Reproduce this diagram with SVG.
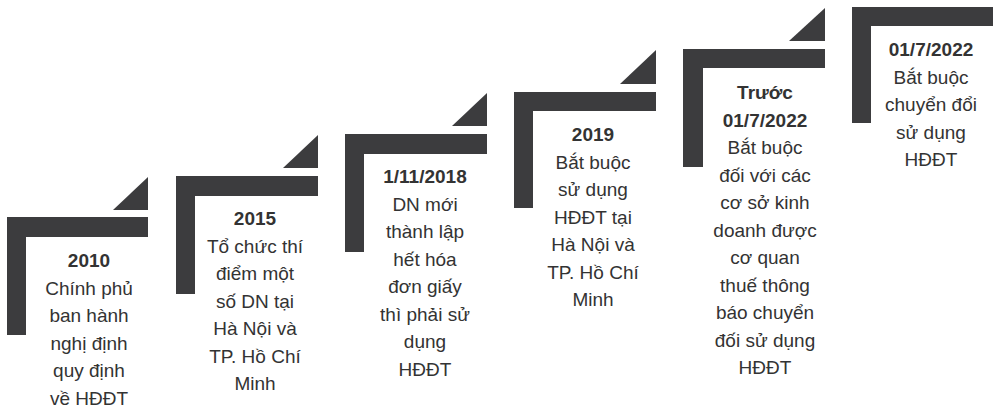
<svg xmlns="http://www.w3.org/2000/svg" width="1000" height="419" viewBox="0 0 1000 419">
<style>
.b{fill:#3c3c3e}
.t{font-family:"Liberation Sans",Arial,sans-serif;font-size:19px;fill:#333;text-anchor:middle}
.h{font-weight:bold}
</style>
<rect width="1000" height="419" fill="#fff"/>
<g id="step1">
<path class="b" d="M7,217H148V237H26V335H7Z"/>
<path class="b" d="M113,210H148V177Z"/>
<text class="t" x="89"><tspan class="h" y="267">2010</tspan><tspan x="89" y="294.5">Chính phủ</tspan><tspan x="89" y="322">ban hành</tspan><tspan x="89" y="349.5">nghị định</tspan><tspan x="89" y="377">quy định</tspan><tspan x="89" y="404.5">về HĐĐT</tspan></text>
</g>
<g id="step2">
<path class="b" d="M176,176H318V196H195V294H176Z"/>
<path class="b" d="M283,168H318V135Z"/>
<text class="t" x="255"><tspan class="h" y="225">2015</tspan><tspan x="255" y="252.5">Tổ chức thí</tspan><tspan x="255" y="280">điểm một</tspan><tspan x="255" y="307.5">số DN tại</tspan><tspan x="255" y="335">Hà Nội và</tspan><tspan x="255" y="362.5">TP. Hồ Chí</tspan><tspan x="255" y="390">Minh</tspan></text>
</g>
<g id="step3">
<path class="b" d="M345,134H487V154H364V252H345Z"/>
<path class="b" d="M452,126H487V93Z"/>
<text class="t" x="425"><tspan class="h" y="183">1/11/2018</tspan><tspan x="425" y="210.5">DN mới</tspan><tspan x="425" y="238">thành lập</tspan><tspan x="425" y="265.5">hết hóa</tspan><tspan x="425" y="293">đơn giấy</tspan><tspan x="425" y="320.5">thì phải sử</tspan><tspan x="425" y="348">dụng</tspan><tspan x="425" y="375.5">HĐĐT</tspan></text>
</g>
<g id="step4">
<path class="b" d="M514,92H656V111H533V208H514Z"/>
<path class="b" d="M620,84H656V50Z"/>
<text class="t" x="593"><tspan class="h" y="141">2019</tspan><tspan x="593" y="168.5">Bắt buộc</tspan><tspan x="593" y="196">sử dụng</tspan><tspan x="593" y="223.5">HĐĐT tại</tspan><tspan x="593" y="251">Hà Nội và</tspan><tspan x="593" y="278.5">TP. Hồ Chí</tspan><tspan x="593" y="306">Minh</tspan></text>
</g>
<g id="step5">
<path class="b" d="M683,49H825V68H703V167H683Z"/>
<path class="b" d="M789,41H825V8Z"/>
<text class="t" x="765"><tspan class="h" y="99">Trước</tspan><tspan class="h" x="765" y="126.5">01/7/2022</tspan><tspan x="765" y="154">Bắt buộc</tspan><tspan x="765" y="181.5">đối với các</tspan><tspan x="765" y="209">cơ sở kinh</tspan><tspan x="765" y="236.5">doanh được</tspan><tspan x="765" y="264">cơ quan</tspan><tspan x="765" y="291.5">thuế thông</tspan><tspan x="765" y="319">báo chuyển</tspan><tspan x="765" y="346.5">đối sử dụng</tspan><tspan x="765" y="374">HĐĐT</tspan></text>
</g>
<g id="step6">
<path class="b" d="M852,7H993V26H871V123H852Z"/>
<text class="t" x="931"><tspan class="h" y="56">01/7/2022</tspan><tspan x="931" y="83.5">Bắt buộc</tspan><tspan x="931" y="111">chuyển đổi</tspan><tspan x="931" y="138.5">sử dụng</tspan><tspan x="931" y="166">HĐĐT</tspan></text>
</g>
<g id="connectors"></g>
</svg>
